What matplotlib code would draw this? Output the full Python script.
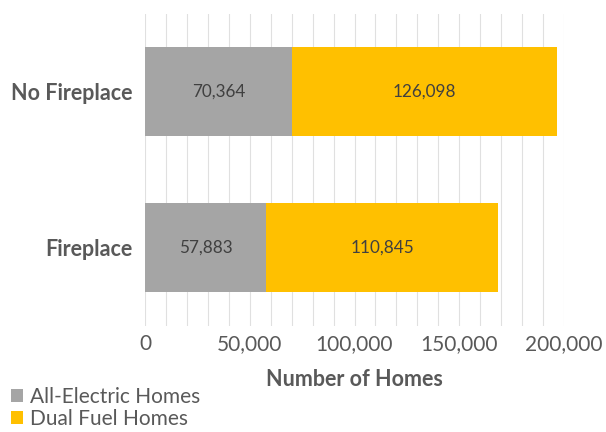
import matplotlib.pyplot as plt
import numpy as np
from matplotlib.ticker import FuncFormatter, MultipleLocator

plt.rcParams['font.family'] = ['Lato', 'DejaVu Sans']

categories = ['Fireplace', 'No Fireplace']
all_electric = [57883, 70364]
dual_fuel = [110845, 126098]
series_names = ['All-Electric Homes', 'Dual Fuel Homes']
colors = ['#A5A5A5', '#FFC000']

fig = plt.figure(figsize=(6.06, 4.32), dpi=100)
ax = fig.add_axes([0.2393, 0.2465, 0.6914, 0.7222])

y = np.arange(len(categories))
h = 0.57
b1 = ax.barh(y, all_electric, height=h, color=colors[0], label=series_names[0], zorder=2)
b2 = ax.barh(y, dual_fuel, height=h, left=all_electric, color=colors[1], label=series_names[1], zorder=2)

for bars in (b1, b2):
    for r in bars:
        w = r.get_width()
        ax.text(r.get_x() + w / 2, r.get_y() + r.get_height() / 2, f'{w:,.0f}',
                ha='center', va='center', fontsize=12.3, color='#404040', zorder=3)

ax.set_xlim(0, 200000)
ax.set_ylim(-0.5, 1.5)
ax.xaxis.set_major_locator(MultipleLocator(50000))
ax.xaxis.set_minor_locator(MultipleLocator(10000))
ax.xaxis.set_major_formatter(FuncFormatter(lambda v, p: f'{v:,.0f}'))
ax.grid(axis='x', which='both', color='#E0E0E0', linewidth=0.8, zorder=0)
ax.set_axisbelow(True)

for s in ax.spines.values():
    s.set_visible(False)
ax.tick_params(axis='x', which='both', length=0, labelsize=15, colors='#595959', pad=6)
ax.tick_params(axis='y', length=0, pad=9)
ax.set_yticks(y)
ax.set_yticklabels(categories, fontsize=15.5, fontweight='bold', color='#595959')
ax.set_xlabel('Number of Homes', fontsize=15.5, fontweight='bold', color='#595959', labelpad=11)

fig.legend(handles=[b1, b2], loc='lower left', bbox_to_anchor=(-0.006, -0.026), frameon=False,
           fontsize=15, labelcolor='#595959', handlelength=0.6, handleheight=0.6,
           handletextpad=0.3, labelspacing=0.1, borderaxespad=0.3)

fig.savefig('out.png', dpi=100)
